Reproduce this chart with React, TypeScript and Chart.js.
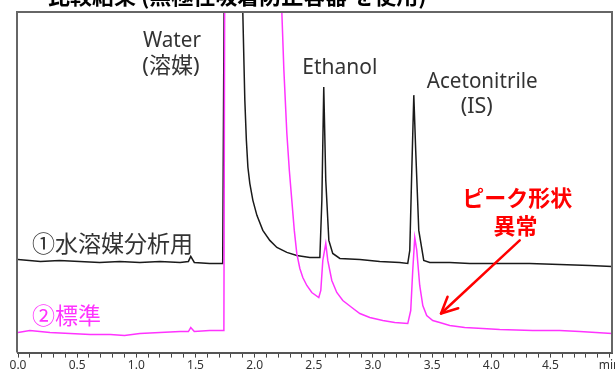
import React, { useEffect, useRef } from "react";
import { Chart, registerables } from "chart.js";

Chart.register(...registerables);

// retention time (min) and detector signal (arbitrary units)
const blackTimes = [0.0, 0.19, 0.35, 0.52, 0.69, 0.86, 1.03, 1.2, 1.37, 1.44, 1.46, 1.49, 1.62, 1.73, 1.745, 1.89, 1.9, 1.909, 1.917, 1.93, 1.943, 1.959, 1.985, 2.019, 2.069, 2.128, 2.188, 2.272, 2.356, 2.466, 2.542, 2.551, 2.568, 2.584, 2.601, 2.627, 2.66, 2.72, 2.889, 3.057, 3.226, 3.294, 3.311, 3.328, 3.345, 3.361, 3.387, 3.429, 3.48, 3.649, 3.818, 4.071, 4.324, 4.578, 4.831, 5.02];
const blackSignal = [93, 91, 92, 91, 90, 91, 90, 91, 90, 91, 96, 90, 89, 89, 420, 420, 339, 292, 252, 212, 185, 169, 152, 137, 122, 112, 105, 100, 97, 95, 95, 95, 152, 265, 172, 112, 99, 94, 93, 91, 90, 89, 102, 182, 257, 202, 122, 92, 90, 90, 89, 89, 89, 88, 87, 86];

const pinkTimes = [0.0, 0.1, 0.27, 0.44, 0.61, 0.78, 0.9, 1.03, 1.2, 1.37, 1.44, 1.46, 1.49, 1.62, 1.74, 1.748, 2.22, 2.23, 2.247, 2.272, 2.293, 2.314, 2.335, 2.356, 2.382, 2.407, 2.441, 2.483, 2.542, 2.559, 2.576, 2.601, 2.618, 2.652, 2.694, 2.745, 2.821, 2.889, 2.973, 3.083, 3.184, 3.294, 3.319, 3.336, 3.353, 3.37, 3.395, 3.421, 3.454, 3.505, 3.564, 3.649, 3.775, 3.927, 4.071, 4.35, 4.578, 4.747, 5.02];
const pinkSignal = [20, 22, 20, 19, 18, 18, 17, 19, 20, 21, 21, 25, 21, 22, 22, 420, 420, 339, 282, 219, 182, 152, 122, 99, 84, 75, 67, 60, 55, 62, 92, 109, 92, 72, 60, 52, 45, 39, 35, 32, 30, 29, 42, 82, 115, 102, 67, 47, 37, 32, 30, 27, 25, 24, 23, 22, 22, 21, 19];

const tickValues = [0, 0.5, 1.0, 1.5, 2.0, 2.5, 3.0, 3.5, 4.0, 4.5, 5.0];
const tickLabels = ["0.0", "0.5", "1.0", "1.5", "2.0", "2.5", "3.0", "3.5", "4.0", "4.5", "min"];

// peak names (t = min, v = signal at text baseline, w = max text width)
const peakLabels = [
  { text: "Water", t: 1.301, v: 305, w: 58 },
  { text: "(溶媒)", t: 1.292, v: 279, w: 58 },
  { text: "Ethanol", t: 2.72, v: 278, w: 75 },
  { text: "Acetonitrile", t: 3.923, v: 264, w: 111 },
  { text: "(IS)", t: 3.877, v: 239, w: 32 },
];

const seriesLabels = [
  { text: "①水溶媒分析用", t: 0.118, v: 109, color: "#333333" },
  { text: "②標準", t: 0.118, v: 37, color: "#ff33ff" },
];

const noteLines = [
  { text: "ピーク形状", t: 4.22, v: 155 },
  { text: "異常", t: 4.205, v: 127 },
];
const arrowFrom = { t: 4.24, v: 112 };
const arrowTo = { t: 3.575, v: 39 };

const titleText = "比較結果 (無極性吸着防止容器 を使用)";

const CJK = '"Noto Sans CJK JP", "Noto Sans", sans-serif';
const LATIN = '"Noto Sans", "Noto Sans CJK JP", sans-serif';

const decorPlugin = {
  id: "decor",
  afterDatasetsDraw(chart: any) {
    const { ctx, chartArea, scales } = chart;
    const xs = scales.x;
    const ys = scales.y;
    ctx.save();
    // frame
    ctx.strokeStyle = "#666666";
    ctx.lineWidth = 2;
    ctx.beginPath();
    ctx.moveTo(chartArea.left - 1, chartArea.bottom);
    ctx.lineTo(chartArea.left - 1, chartArea.top);
    ctx.lineTo(chartArea.right, chartArea.top);
    ctx.lineTo(chartArea.right, chartArea.bottom);
    ctx.stroke();

    // title (cut off at top)
    ctx.fillStyle = "#000000";
    ctx.font = `bold 22px ${CJK}`;
    ctx.textAlign = "left";
    ctx.textBaseline = "alphabetic";
    ctx.fillText(titleText, 48, 4);

    // peak labels
    ctx.fillStyle = "#333333";
    ctx.font = `22px ${LATIN}`;
    ctx.textAlign = "center";
    ctx.textBaseline = "alphabetic";
    peakLabels.forEach((l) => {
      ctx.fillText(l.text, xs.getPixelForValue(l.t), ys.getPixelForValue(l.v), l.w);
    });

    // series labels
    ctx.font = `23px ${CJK}`;
    ctx.textAlign = "left";
    ctx.textBaseline = "middle";
    seriesLabels.forEach((l) => {
      ctx.fillStyle = l.color;
      ctx.fillText(l.text, xs.getPixelForValue(l.t), ys.getPixelForValue(l.v));
    });

    // note
    ctx.fillStyle = "#ff0000";
    ctx.font = `bold 22px ${CJK}`;
    ctx.textAlign = "center";
    noteLines.forEach((l) => {
      ctx.fillText(l.text, xs.getPixelForValue(l.t), ys.getPixelForValue(l.v));
    });

    // arrow
    const x1 = xs.getPixelForValue(arrowFrom.t);
    const y1 = ys.getPixelForValue(arrowFrom.v);
    const x2 = xs.getPixelForValue(arrowTo.t);
    const y2 = ys.getPixelForValue(arrowTo.v);
    const ang = Math.atan2(y2 - y1, x2 - x1);
    ctx.strokeStyle = "#ff0000";
    ctx.lineWidth = 2.5;
    ctx.lineCap = "round";
    ctx.lineJoin = "round";
    ctx.beginPath();
    ctx.moveTo(x1, y1);
    ctx.lineTo(x2, y2);
    ctx.stroke();
    const head = 18;
    ctx.beginPath();
    ctx.moveTo(x2 + head * Math.cos(ang + Math.PI - 0.45), y2 + head * Math.sin(ang + Math.PI - 0.45));
    ctx.lineTo(x2, y2);
    ctx.lineTo(x2 + head * Math.cos(ang + Math.PI + 0.45), y2 + head * Math.sin(ang + Math.PI + 0.45));
    ctx.stroke();
    ctx.restore();
  },
};

export default function App() {
  const ref = useRef<HTMLCanvasElement | null>(null);
  useEffect(() => {
    if (!ref.current) return;
    const black = blackTimes.map((t, i) => ({ x: t, y: blackSignal[i] }));
    const pink = pinkTimes.map((t, i) => ({ x: t, y: pinkSignal[i] }));
    const chart = new Chart(ref.current, {
      type: "line",
      data: {
        datasets: [
          { label: "②標準", data: pink, borderColor: "#ff33ff", borderWidth: 1.5, pointRadius: 0, tension: 0 },
          { label: "①水溶媒分析用", data: black, borderColor: "#1a1a1a", borderWidth: 1.5, pointRadius: 0, tension: 0 },
        ],
      },
      options: {
        animation: false,
        responsive: false,
        parsing: false as any,
        layout: { padding: { left: 18, right: 28, top: 12, bottom: 0 } },
        plugins: { legend: { display: false }, tooltip: { enabled: false } },
        scales: {
          x: {
            type: "linear",
            min: 0,
            max: 5.02,
            afterBuildTicks: (axis: any) => {
              const arr = [];
              for (let i = 0; i <= 50; i++) arr.push({ value: i / 10 });
              axis.ticks = arr;
            },
            ticks: {
              autoSkip: false,
              maxRotation: 0,
              padding: 1,
              color: "#333333",
              font: { size: 12, family: LATIN },
              callback: (value: any) => {
                const idx = tickValues.findIndex((v) => Math.abs(v - value) < 1e-6);
                return idx >= 0 ? tickLabels[idx] : "";
              },
            },
            grid: { display: true, drawOnChartArea: false, drawTicks: true, tickLength: 5, color: "#444444", lineWidth: 1 },
            border: { display: true, color: "#555555", width: 2 },
          },
          y: { display: false, min: 0, max: 340 },
        },
      },
      plugins: [decorPlugin],
    });
    return () => chart.destroy();
  }, []);
  return (
    <div style={{ position: "fixed", left: 0, top: 0, width: 615, height: 374, overflow: "hidden", background: "#ffffff" }}>
      <canvas ref={ref} width={640} height={374} style={{ display: "block" }} />
    </div>
  );
}
